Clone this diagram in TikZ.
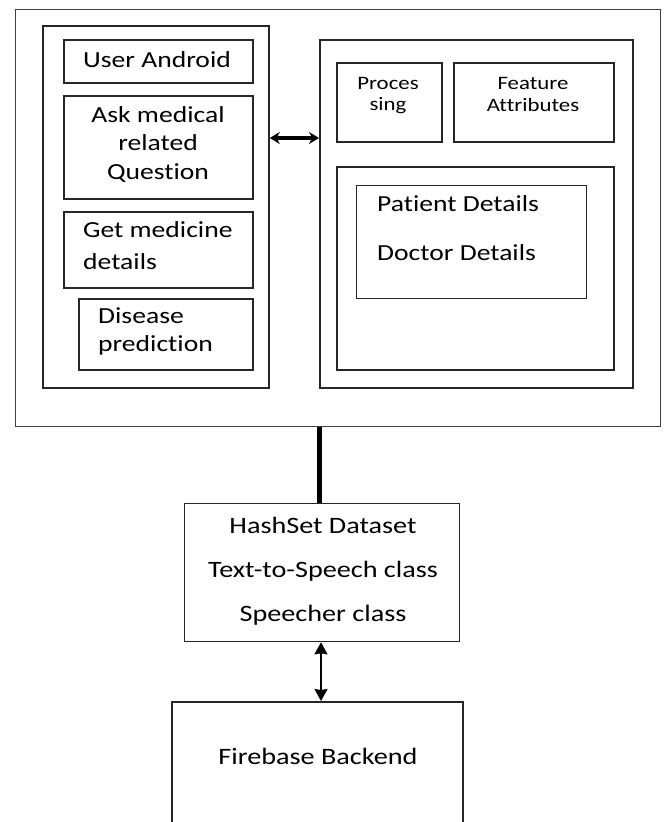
\documentclass[tikz,border=0pt]{standalone}
\usepackage{fontspec}
\setmainfont{Carlito}[FakeStretch=1.2, Ligatures=NoCommon]
\usetikzlibrary{arrows.meta}
\begin{document}
\begin{tikzpicture}[x=1pt,y=-1pt,
  box/.style={draw=black!85, line width=1.8pt, inner sep=0pt, anchor=north west},
  outerbox/.style={draw=black!75, line width=1.3pt, inner sep=0pt, anchor=north west},
  lbl/.style={inner sep=0pt, font=\fontsize{23}{27}\selectfont, text=black},
  slbl/.style={inner sep=0pt, font=\fontsize{19}{23}\selectfont, text=black},
  blbl/.style={inner sep=0pt, font=\fontsize{23.5}{27}\selectfont, text=black}]
\clip (0,0) rectangle (665,822);
\fill[white] (0,0) rectangle (665,822);
% outer frame
\node[outerbox, minimum width=645pt, minimum height=417pt] (outer) at (15,9) {};
% left panel
\node[box, minimum width=226pt, minimum height=362pt] (lp) at (42,25) {};
\node[box, minimum width=189pt, minimum height=43pt] (ua) at (63,39) {};
\node[box, minimum width=189pt, minimum height=103pt] (ask) at (63,95) {};
\node[box, minimum width=189pt, minimum height=76pt] (gm) at (63,211) {};
\node[box, minimum width=174pt, minimum height=71pt] (dp) at (78,298) {};
% right panel
\node[box, minimum width=313pt, minimum height=348pt] (rp) at (319,39) {};
\node[box, minimum width=105pt, minimum height=79pt] (pr) at (336,62) {};
\node[box, minimum width=160pt, minimum height=79pt] (fa) at (453,62) {};
\node[box, minimum width=277pt, minimum height=203pt] (db) at (336,166) {};
\node[draw=black!85, line width=1.3pt, inner sep=0pt, anchor=north west, minimum width=230pt, minimum height=113pt] (pd) at (356,185) {};
% bottom boxes
\node[draw=black!85, line width=1.3pt, inner sep=0pt, anchor=north west, minimum width=275pt, minimum height=138pt] (hs) at (184,503) {};
\node[draw=black!85, line width=1.8pt, inner sep=0pt, anchor=north west, minimum width=291pt, minimum height=160pt] (fb) at (171,701) {};
% texts
\node[lbl] (t1) at (157,60) {User Android};
\node[lbl] (t2) at (158,115) {Ask medical};
\node[lbl] (t3) at (158,143) {related};
\node[lbl] (t4) at (158,173) {Question};
\node[lbl, anchor=west] (t5) at (83,230) {Get medicine};
\node[lbl, anchor=west] (t6) at (83,262) {details};
\node[lbl, anchor=west] (t7) at (98,316) {Disease};
\node[lbl, anchor=west] (t8) at (98,345) {prediction};
\node[slbl] (t9) at (388,83) {Proces};
\node[slbl] (t10) at (388,106) {sing};
\node[slbl] (t11) at (533,83) {Feature};
\node[slbl] (t12) at (533,105) {Attributes};
\node[lbl, anchor=west] (t13) at (377,204) {Patient Details};
\node[lbl, anchor=west] (t14) at (377,253) {Doctor Details};
\node[blbl] (t15) at (323,525) {HashSet Dataset};
\node[blbl] (t16) at (323,571) {Text-to-Speech class};
\node[blbl] (t17) at (323,615) {Speecher class};
\node[blbl] (t18) at (318,756) {Firebase Backend};
% connectors
\coordinate (ay) at (0,138);
\draw[line width=3.2pt, {Stealth[length=10pt,width=12pt]}-{Stealth[length=10pt,width=12pt]}] (lp.east |- ay) -- (rp.west |- ay);
\draw[line width=5pt] (outer.south -| 319,0) -- (hs.north -| 319,0);
\coordinate (vx) at (321,0);
\draw[line width=1.8pt, {Stealth[length=12pt,width=13pt,inset=1pt]}-{Stealth[length=12pt,width=13pt,inset=1pt]}] (hs.south -| vx) -- (fb.north -| vx);
\end{tikzpicture}
\end{document}
